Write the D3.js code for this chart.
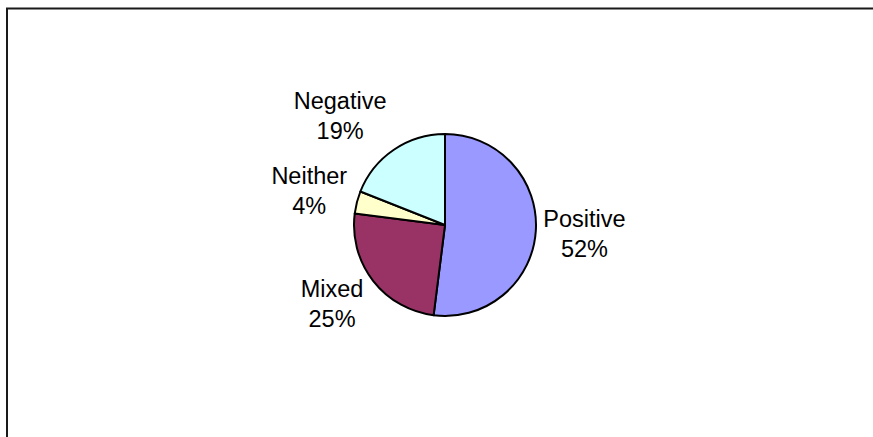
<!DOCTYPE html>
<html>
<head>
<meta charset="utf-8">
<script src="https://cdn.jsdelivr.net/npm/d3@7/dist/d3.min.js"></script>
<style>
  html, body { margin: 0; padding: 0; background: #fff; }
  svg { display: block; }
  text { font-family: "Liberation Sans", Arial, sans-serif; }
</style>
</head>
<body>
<svg id="chart" width="873" height="437"></svg>
<script>
// ---- data ----
const categories = ["Positive", "Mixed", "Neither", "Negative"];
const values = [52, 25, 4, 19];
const percentLabels = ["52%", "25%", "4%", "19%"];
const colors = ["#9999FF", "#993366", "#FFFFCC", "#CCFFFF"];

// ---- layout ----
const W = 873, H = 437;
const cx = 445, cy = 225, R = 91;
const fontSize = 23.5, lineGap = 30;
const labelGap = 6;
const angleNudge = { Negative: -9.5, Mixed: 3 };  // degrees, label placement adjustment

const svg = d3.select("#chart");

// chart area border (extends past the viewport on right/bottom)
svg.append("rect")
  .attr("x", 7).attr("y", 8.5)
  .attr("width", W + 20).attr("height", H + 20)
  .attr("fill", "#fff")
  .attr("stroke", "#1a1a1a")
  .attr("stroke-width", 2);

const data = categories.map((c, i) => ({ cat: c, value: values[i], pct: percentLabels[i], color: colors[i] }));

const pie = d3.pie().value(d => d.value).sort(null).startAngle(0).endAngle(2 * Math.PI);
const arc = d3.arc().innerRadius(0).outerRadius(R);
const arcs = pie(data);

const g = svg.append("g").attr("transform", `translate(${cx},${cy})`);

g.selectAll("path.slice")
  .data(arcs)
  .join("path")
  .attr("class", "slice")
  .attr("d", arc)
  .attr("fill", d => d.data.color)
  .attr("stroke", "#000")
  .attr("stroke-width", 2)
  .attr("stroke-linejoin", "round");

// labels: placed outside the slice along its mid-angle
const measure = svg.append("text").attr("font-size", fontSize).attr("visibility", "hidden");
function textWidth(s) { measure.text(s); return measure.node().getComputedTextLength(); }

arcs.forEach(a => {
  const mid = (a.startAngle + a.endAngle) / 2 + ((angleNudge[a.data.cat] || 0) * Math.PI / 180);
  const dx = Math.sin(mid), dy = -Math.cos(mid);
  const w = Math.max(textWidth(a.data.cat), textWidth(a.data.pct));
  const halfH = 26;
  const support = Math.abs(dx) * w / 2 + Math.abs(dy) * halfH;
  const extra = a.data.cat === "Negative" ? 4 : 0;
  const dist = R + labelGap + extra + support;
  const lx = dx * dist, ly = dy * dist;
  const t = g.append("text")
    .attr("text-anchor", "middle")
    .attr("font-size", fontSize)
    .attr("fill", "#000");
  t.append("tspan").attr("x", lx).attr("y", ly - 6.5).text(a.data.cat);
  t.append("tspan").attr("x", lx).attr("y", ly - 6.5 + lineGap).text(a.data.pct);
});
measure.remove();
</script>
</body>
</html>
